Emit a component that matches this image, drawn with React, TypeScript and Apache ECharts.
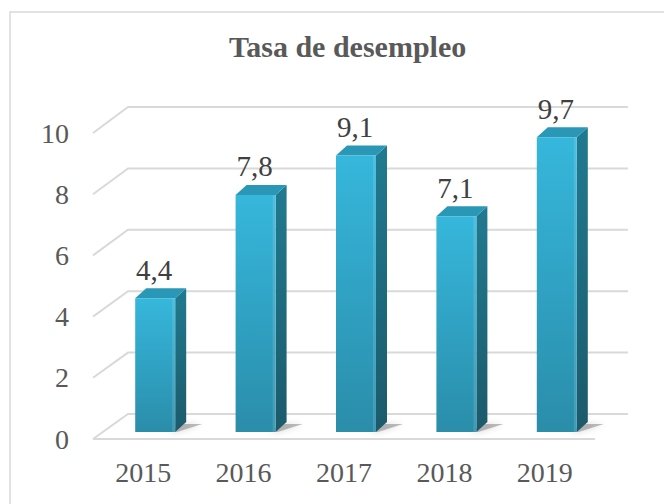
import React, { useEffect, useRef } from "react";
import * as echarts from "echarts";

const categories = ["2015", "2016", "2017", "2018", "2019"];
const values = [4.4, 7.8, 9.1, 7.1, 9.7];
const yTicks = [0, 2, 4, 6, 8, 10];

const FONT = "Liberation Serif";

export default function App() {
  const ref = useRef<HTMLDivElement>(null);
  useEffect(() => {
    if (!ref.current) return;
    const chart = echarts.init(ref.current, null, { renderer: "svg" });

    const gridItem = (params: any, api: any) => {
      const t = api.value(1);
      const band = api.size([1, 0])[0];
      const pl = api.coord([0, t]);
      const pr = api.coord([categories.length - 1, t]);
      const xl = pl[0] - band / 2;
      const xr = pr[0] + band / 2;
      const yf = pl[1];
      const depthX = 35;
      const depthY = 25 + t * 0.1;
      const children: any[] = [
        {
          type: "polyline",
          shape: { points: [[xl, yf], [xl + depthX, yf - depthY], [xr + 33, yf - depthY]] },
          style: { stroke: "#d9d9d9", lineWidth: 2, fill: "none" },
        },
      ];
      if (t === 0) {
        children.push({
          type: "line",
          shape: { x1: xl, y1: yf, x2: xr, y2: yf },
          style: { stroke: "#d9d9d9", lineWidth: 2 },
        });
      }
      return { type: "group", children };
    };

    const barItem = (params: any, api: any) => {
      const i = api.value(0);
      const v = api.value(1);
      const p0 = api.coord([i, 0]);
      const p1 = api.coord([i, v]);
      const ox = 12;
      const oy = -7;
      const w = 40;
      const dx = 11;
      const dy = 10;
      const cx = p0[0] + ox;
      const x0 = cx - w / 2;
      const x1 = cx + w / 2;
      const yb = p0[1] + oy;
      const h = (p0[1] - p1[1]) * 0.993;
      const yt = yb - h;
      return {
        type: "group",
        children: [
          {
            type: "polygon",
            shape: { points: [[x1 - 8, yb], [x1 + 2, yb], [x1 + dx + 16, yb - dy + 2], [x1 + dx - 2, yb - dy + 2]] },
            style: { fill: "rgba(70,70,70,0.35)", shadowBlur: 6, shadowColor: "rgba(0,0,0,0.45)" },
          },
          {
            type: "polygon",
            shape: { points: [[x1, yt], [x1 + dx, yt - dy], [x1 + dx, yb - dy], [x1, yb]] },
            style: {
              fill: new echarts.graphic.LinearGradient(0, 0, 0, 1, [
                { offset: 0, color: "#217a90" },
                { offset: 1, color: "#1b5a6b" },
              ]),
            },
          },
          {
            type: "polygon",
            shape: { points: [[x0, yt], [x0 + dx, yt - dy], [x1 + dx, yt - dy], [x1, yt]] },
            style: { fill: "#2a97b6" },
          },
          {
            type: "rect",
            shape: { x: x0, y: yt, width: w, height: yb - yt },
            style: {
              fill: new echarts.graphic.LinearGradient(0, 0, 0, 1, [
                { offset: 0, color: "#36b7dc" },
                { offset: 1, color: "#2a8daa" },
              ]),
            },
          },
          {
            type: "rect",
            shape: { x: x1 - 3, y: yt, width: 3, height: yb - yt },
            style: { fill: "rgba(255,255,255,0.12)" },
          },
          {
            type: "text",
            style: {
              text: String(v).replace(".", ","),
              x: cx - 1,
              y: yt - dy - 4,
              align: "center",
              verticalAlign: "bottom",
              fontFamily: FONT,
              fontSize: 29,
              fill: "#404040",
            },
          },
        ],
      };
    };

    chart.setOption({
      animation: false,
      backgroundColor: "#ffffff",
      title: {
        text: "Tasa de desempleo",
        left: 224,
        top: 26,
        textStyle: { fontFamily: FONT, fontSize: 30, fontWeight: "bold", color: "#595959" },
      },
      graphic: [
        {
          type: "rect",
          shape: { x: 10, y: 12, width: 700, height: 600 },
          style: { fill: "none", stroke: "#d9d9d9", lineWidth: 1.5 },
          silent: true,
        },
      ],
      grid: { left: 93, right: 69, top: 133, bottom: 65 },
      xAxis: {
        type: "category",
        data: categories,
        axisLine: { show: false },
        axisTick: { show: false },
        axisLabel: { fontFamily: FONT, fontSize: 28, color: "#595959", margin: 19 },
      },
      yAxis: {
        type: "value",
        min: 0,
        max: 10,
        interval: 2,
        axisLine: { show: false },
        axisTick: { show: false },
        splitLine: { show: false },
        axisLabel: { fontFamily: FONT, fontSize: 28, color: "#595959", margin: 24 },
      },
      series: [
        {
          type: "custom",
          renderItem: gridItem,
          data: yTicks.map((t) => [0, t]),
          z: 1,
          silent: true,
        },
        {
          type: "custom",
          renderItem: barItem,
          data: values.map((v, i) => [i, v]),
          z: 2,
        },
      ],
    });
    return () => chart.dispose();
  }, []);
  return <div ref={ref} style={{ position: "fixed", left: 0, top: 0, width: 664, height: 504 }} />;
}
